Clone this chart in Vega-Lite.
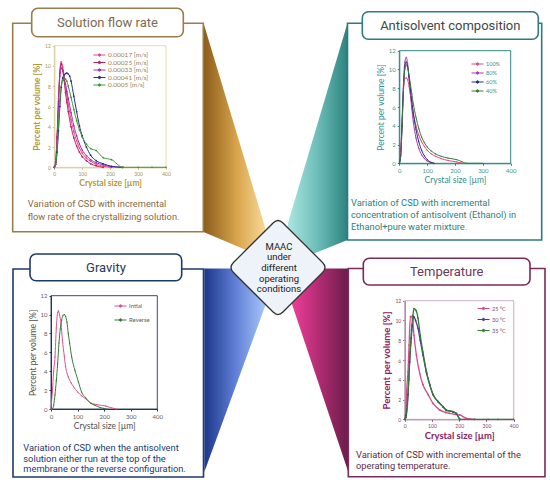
{
  "$schema": "https://vega.github.io/schema/vega-lite/v6.json",
  "width": 550,
  "height": 484,
  "padding": 0,
  "autosize": {"type": "none"},
  "background": "#ffffff",
  "config": {
    "view": {"stroke": null},
    "font": "Roboto",
    "axis": {"grid": false, "labelFlush": false, "labelOverlap": false, "ticks": true, "tickSize": 2, "domainWidth": 1}
  },
  "datasets": {
    "flow": [
      {"rate": "0.00017 [m/s]", "size": 0, "pct": 0}, {"rate": "0.00017 [m/s]", "size": 5, "pct": 0.6}, {"rate": "0.00017 [m/s]", "size": 10, "pct": 3.2}, {"rate": "0.00017 [m/s]", "size": 15, "pct": 6.8}, {"rate": "0.00017 [m/s]", "size": 20, "pct": 9.6}, {"rate": "0.00017 [m/s]", "size": 25, "pct": 10.4}, {"rate": "0.00017 [m/s]", "size": 30, "pct": 9.9}, {"rate": "0.00017 [m/s]", "size": 35, "pct": 9}, {"rate": "0.00017 [m/s]", "size": 40, "pct": 8}, {"rate": "0.00017 [m/s]", "size": 45, "pct": 7.1}, {"rate": "0.00017 [m/s]", "size": 50, "pct": 6.2}, {"rate": "0.00017 [m/s]", "size": 60, "pct": 4.7}, {"rate": "0.00017 [m/s]", "size": 70, "pct": 3.5}, {"rate": "0.00017 [m/s]", "size": 80, "pct": 2.6}, {"rate": "0.00017 [m/s]", "size": 90, "pct": 1.9}, {"rate": "0.00017 [m/s]", "size": 100, "pct": 1.4}, {"rate": "0.00017 [m/s]", "size": 115, "pct": 0.9}, {"rate": "0.00017 [m/s]", "size": 130, "pct": 0.6}, {"rate": "0.00017 [m/s]", "size": 150, "pct": 0.3}, {"rate": "0.00017 [m/s]", "size": 175, "pct": 0.1}, {"rate": "0.00017 [m/s]", "size": 205, "pct": 0},
      {"rate": "0.00025 [m/s]", "size": 0, "pct": 0}, {"rate": "0.00025 [m/s]", "size": 5, "pct": 0.5}, {"rate": "0.00025 [m/s]", "size": 10, "pct": 3}, {"rate": "0.00025 [m/s]", "size": 15, "pct": 6.5}, {"rate": "0.00025 [m/s]", "size": 20, "pct": 9.3}, {"rate": "0.00025 [m/s]", "size": 25, "pct": 10.2}, {"rate": "0.00025 [m/s]", "size": 30, "pct": 9.6}, {"rate": "0.00025 [m/s]", "size": 35, "pct": 8.6}, {"rate": "0.00025 [m/s]", "size": 40, "pct": 7.4}, {"rate": "0.00025 [m/s]", "size": 45, "pct": 6.4}, {"rate": "0.00025 [m/s]", "size": 50, "pct": 5.5}, {"rate": "0.00025 [m/s]", "size": 60, "pct": 4}, {"rate": "0.00025 [m/s]", "size": 70, "pct": 2.9}, {"rate": "0.00025 [m/s]", "size": 80, "pct": 2.1}, {"rate": "0.00025 [m/s]", "size": 90, "pct": 1.5}, {"rate": "0.00025 [m/s]", "size": 100, "pct": 1.05}, {"rate": "0.00025 [m/s]", "size": 115, "pct": 0.65}, {"rate": "0.00025 [m/s]", "size": 130, "pct": 0.35}, {"rate": "0.00025 [m/s]", "size": 150, "pct": 0.15}, {"rate": "0.00025 [m/s]", "size": 175, "pct": 0},
      {"rate": "0.00033 [m/s]", "size": 0, "pct": 0}, {"rate": "0.00033 [m/s]", "size": 5, "pct": 0.5}, {"rate": "0.00033 [m/s]", "size": 10, "pct": 2.8}, {"rate": "0.00033 [m/s]", "size": 15, "pct": 6.3}, {"rate": "0.00033 [m/s]", "size": 20, "pct": 9}, {"rate": "0.00033 [m/s]", "size": 25, "pct": 9.8}, {"rate": "0.00033 [m/s]", "size": 30, "pct": 9.5}, {"rate": "0.00033 [m/s]", "size": 35, "pct": 8.9}, {"rate": "0.00033 [m/s]", "size": 40, "pct": 8.2}, {"rate": "0.00033 [m/s]", "size": 45, "pct": 7.5}, {"rate": "0.00033 [m/s]", "size": 50, "pct": 6.8}, {"rate": "0.00033 [m/s]", "size": 60, "pct": 5.4}, {"rate": "0.00033 [m/s]", "size": 70, "pct": 4.1}, {"rate": "0.00033 [m/s]", "size": 80, "pct": 3.1}, {"rate": "0.00033 [m/s]", "size": 90, "pct": 2.3}, {"rate": "0.00033 [m/s]", "size": 100, "pct": 1.7}, {"rate": "0.00033 [m/s]", "size": 115, "pct": 1.15}, {"rate": "0.00033 [m/s]", "size": 130, "pct": 0.75}, {"rate": "0.00033 [m/s]", "size": 150, "pct": 0.45}, {"rate": "0.00033 [m/s]", "size": 175, "pct": 0.25}, {"rate": "0.00033 [m/s]", "size": 205, "pct": 0.05}, {"rate": "0.00033 [m/s]", "size": 245, "pct": 0},
      {"rate": "0.00041 [m/s]", "size": 0, "pct": 0}, {"rate": "0.00041 [m/s]", "size": 5, "pct": 0.3}, {"rate": "0.00041 [m/s]", "size": 10, "pct": 1.5}, {"rate": "0.00041 [m/s]", "size": 15, "pct": 3.6}, {"rate": "0.00041 [m/s]", "size": 20, "pct": 6}, {"rate": "0.00041 [m/s]", "size": 25, "pct": 7.9}, {"rate": "0.00041 [m/s]", "size": 30, "pct": 8.8}, {"rate": "0.00041 [m/s]", "size": 35, "pct": 9.1}, {"rate": "0.00041 [m/s]", "size": 40, "pct": 9.25}, {"rate": "0.00041 [m/s]", "size": 45, "pct": 9.3}, {"rate": "0.00041 [m/s]", "size": 50, "pct": 9.2}, {"rate": "0.00041 [m/s]", "size": 55, "pct": 9}, {"rate": "0.00041 [m/s]", "size": 60, "pct": 8.5}, {"rate": "0.00041 [m/s]", "size": 70, "pct": 7}, {"rate": "0.00041 [m/s]", "size": 80, "pct": 5.5}, {"rate": "0.00041 [m/s]", "size": 90, "pct": 4.1}, {"rate": "0.00041 [m/s]", "size": 100, "pct": 3.1}, {"rate": "0.00041 [m/s]", "size": 115, "pct": 2}, {"rate": "0.00041 [m/s]", "size": 130, "pct": 1.2}, {"rate": "0.00041 [m/s]", "size": 150, "pct": 0.65}, {"rate": "0.00041 [m/s]", "size": 175, "pct": 0.35}, {"rate": "0.00041 [m/s]", "size": 205, "pct": 0.1}, {"rate": "0.00041 [m/s]", "size": 245, "pct": 0},
      {"rate": "0.0005 [m/s]", "size": 0, "pct": 0}, {"rate": "0.0005 [m/s]", "size": 5, "pct": 0.3}, {"rate": "0.0005 [m/s]", "size": 10, "pct": 1.8}, {"rate": "0.0005 [m/s]", "size": 15, "pct": 4.2}, {"rate": "0.0005 [m/s]", "size": 20, "pct": 6.6}, {"rate": "0.0005 [m/s]", "size": 25, "pct": 8}, {"rate": "0.0005 [m/s]", "size": 30, "pct": 8.6}, {"rate": "0.0005 [m/s]", "size": 35, "pct": 8.7}, {"rate": "0.0005 [m/s]", "size": 40, "pct": 8.7}, {"rate": "0.0005 [m/s]", "size": 45, "pct": 8.5}, {"rate": "0.0005 [m/s]", "size": 50, "pct": 8}, {"rate": "0.0005 [m/s]", "size": 60, "pct": 6.9}, {"rate": "0.0005 [m/s]", "size": 70, "pct": 5.7}, {"rate": "0.0005 [m/s]", "size": 80, "pct": 4.6}, {"rate": "0.0005 [m/s]", "size": 90, "pct": 3.7}, {"rate": "0.0005 [m/s]", "size": 100, "pct": 3}, {"rate": "0.0005 [m/s]", "size": 115, "pct": 2.3}, {"rate": "0.0005 [m/s]", "size": 130, "pct": 1.85}, {"rate": "0.0005 [m/s]", "size": 150, "pct": 1.65}, {"rate": "0.0005 [m/s]", "size": 175, "pct": 0.95}, {"rate": "0.0005 [m/s]", "size": 205, "pct": 0.75}, {"rate": "0.0005 [m/s]", "size": 245, "pct": 0}, {"rate": "0.0005 [m/s]", "size": 300, "pct": 0}, {"rate": "0.0005 [m/s]", "size": 350, "pct": 0}, {"rate": "0.0005 [m/s]", "size": 400, "pct": 0}
    ],
    "solvent": [
      {"ethanol": "100%", "size": 0, "pct": 0}, {"ethanol": "100%", "size": 5, "pct": 1.2}, {"ethanol": "100%", "size": 10, "pct": 4.5}, {"ethanol": "100%", "size": 15, "pct": 7.8}, {"ethanol": "100%", "size": 20, "pct": 9}, {"ethanol": "100%", "size": 25, "pct": 9.1}, {"ethanol": "100%", "size": 30, "pct": 8.9}, {"ethanol": "100%", "size": 35, "pct": 8.2}, {"ethanol": "100%", "size": 40, "pct": 7.3}, {"ethanol": "100%", "size": 45, "pct": 6.3}, {"ethanol": "100%", "size": 50, "pct": 5.4}, {"ethanol": "100%", "size": 60, "pct": 4}, {"ethanol": "100%", "size": 70, "pct": 3}, {"ethanol": "100%", "size": 80, "pct": 2.3}, {"ethanol": "100%", "size": 90, "pct": 1.8}, {"ethanol": "100%", "size": 100, "pct": 1.4}, {"ethanol": "100%", "size": 115, "pct": 1}, {"ethanol": "100%", "size": 130, "pct": 0.75}, {"ethanol": "100%", "size": 150, "pct": 0.5}, {"ethanol": "100%", "size": 175, "pct": 0.3}, {"ethanol": "100%", "size": 205, "pct": 0.15}, {"ethanol": "100%", "size": 230, "pct": 0},
      {"ethanol": "80%", "size": 0, "pct": 0}, {"ethanol": "80%", "size": 5, "pct": 1}, {"ethanol": "80%", "size": 10, "pct": 4.6}, {"ethanol": "80%", "size": 15, "pct": 8.6}, {"ethanol": "80%", "size": 20, "pct": 10.8}, {"ethanol": "80%", "size": 25, "pct": 11.3}, {"ethanol": "80%", "size": 30, "pct": 10.6}, {"ethanol": "80%", "size": 35, "pct": 9}, {"ethanol": "80%", "size": 40, "pct": 7.3}, {"ethanol": "80%", "size": 45, "pct": 5.8}, {"ethanol": "80%", "size": 50, "pct": 4.5}, {"ethanol": "80%", "size": 60, "pct": 2.7}, {"ethanol": "80%", "size": 70, "pct": 1.6}, {"ethanol": "80%", "size": 80, "pct": 0.9}, {"ethanol": "80%", "size": 90, "pct": 0.5}, {"ethanol": "80%", "size": 100, "pct": 0.25}, {"ethanol": "80%", "size": 115, "pct": 0.05}, {"ethanol": "80%", "size": 125, "pct": 0},
      {"ethanol": "60%", "size": 0, "pct": 0}, {"ethanol": "60%", "size": 5, "pct": 0.8}, {"ethanol": "60%", "size": 10, "pct": 4}, {"ethanol": "60%", "size": 15, "pct": 8}, {"ethanol": "60%", "size": 20, "pct": 10.3}, {"ethanol": "60%", "size": 25, "pct": 10.8}, {"ethanol": "60%", "size": 30, "pct": 10.3}, {"ethanol": "60%", "size": 35, "pct": 9.2}, {"ethanol": "60%", "size": 40, "pct": 7.9}, {"ethanol": "60%", "size": 45, "pct": 6.6}, {"ethanol": "60%", "size": 50, "pct": 5.4}, {"ethanol": "60%", "size": 60, "pct": 3.6}, {"ethanol": "60%", "size": 70, "pct": 2.3}, {"ethanol": "60%", "size": 80, "pct": 1.4}, {"ethanol": "60%", "size": 90, "pct": 0.8}, {"ethanol": "60%", "size": 100, "pct": 0.4}, {"ethanol": "60%", "size": 115, "pct": 0.1}, {"ethanol": "60%", "size": 125, "pct": 0},
      {"ethanol": "40%", "size": 0, "pct": 0}, {"ethanol": "40%", "size": 5, "pct": 0.8}, {"ethanol": "40%", "size": 10, "pct": 4}, {"ethanol": "40%", "size": 15, "pct": 8}, {"ethanol": "40%", "size": 20, "pct": 10}, {"ethanol": "40%", "size": 25, "pct": 10.5}, {"ethanol": "40%", "size": 30, "pct": 10.2}, {"ethanol": "40%", "size": 35, "pct": 9.4}, {"ethanol": "40%", "size": 40, "pct": 8.4}, {"ethanol": "40%", "size": 45, "pct": 7.4}, {"ethanol": "40%", "size": 50, "pct": 6.4}, {"ethanol": "40%", "size": 60, "pct": 4.9}, {"ethanol": "40%", "size": 70, "pct": 3.7}, {"ethanol": "40%", "size": 80, "pct": 2.8}, {"ethanol": "40%", "size": 90, "pct": 2.2}, {"ethanol": "40%", "size": 100, "pct": 1.75}, {"ethanol": "40%", "size": 115, "pct": 1.3}, {"ethanol": "40%", "size": 130, "pct": 1}, {"ethanol": "40%", "size": 150, "pct": 0.75}, {"ethanol": "40%", "size": 175, "pct": 0.55}, {"ethanol": "40%", "size": 205, "pct": 0.4}, {"ethanol": "40%", "size": 245, "pct": 0}, {"ethanol": "40%", "size": 300, "pct": 0}
    ],
    "gravity": [
      {"mode": "Intial", "size": 0, "pct": 0}, {"mode": "Intial", "size": 5, "pct": 1.8}, {"mode": "Intial", "size": 10, "pct": 4}, {"mode": "Intial", "size": 15, "pct": 5.5}, {"mode": "Intial", "size": 20, "pct": 8.6}, {"mode": "Intial", "size": 25, "pct": 10.2}, {"mode": "Intial", "size": 28, "pct": 10.4}, {"mode": "Intial", "size": 32, "pct": 10}, {"mode": "Intial", "size": 38, "pct": 9}, {"mode": "Intial", "size": 43, "pct": 7.3}, {"mode": "Intial", "size": 50, "pct": 5.6}, {"mode": "Intial", "size": 55, "pct": 4.5}, {"mode": "Intial", "size": 65, "pct": 3.4}, {"mode": "Intial", "size": 75, "pct": 2.8}, {"mode": "Intial", "size": 85, "pct": 2.35}, {"mode": "Intial", "size": 100, "pct": 1.8}, {"mode": "Intial", "size": 115, "pct": 1.4}, {"mode": "Intial", "size": 130, "pct": 1.1}, {"mode": "Intial", "size": 150, "pct": 0.65}, {"mode": "Intial", "size": 175, "pct": 0.45}, {"mode": "Intial", "size": 205, "pct": 0.32}, {"mode": "Intial", "size": 225, "pct": 0.15}, {"mode": "Intial", "size": 245, "pct": 0},
      {"mode": "Reverse", "size": 0, "pct": 0}, {"mode": "Reverse", "size": 5, "pct": 0}, {"mode": "Reverse", "size": 10, "pct": 0.4}, {"mode": "Reverse", "size": 15, "pct": 1.5}, {"mode": "Reverse", "size": 20, "pct": 3}, {"mode": "Reverse", "size": 25, "pct": 4.8}, {"mode": "Reverse", "size": 30, "pct": 7}, {"mode": "Reverse", "size": 35, "pct": 8.5}, {"mode": "Reverse", "size": 40, "pct": 9.4}, {"mode": "Reverse", "size": 45, "pct": 9.9}, {"mode": "Reverse", "size": 50, "pct": 10}, {"mode": "Reverse", "size": 55, "pct": 9.8}, {"mode": "Reverse", "size": 60, "pct": 9.2}, {"mode": "Reverse", "size": 65, "pct": 8}, {"mode": "Reverse", "size": 70, "pct": 7}, {"mode": "Reverse", "size": 78, "pct": 5.5}, {"mode": "Reverse", "size": 90, "pct": 4.1}, {"mode": "Reverse", "size": 103, "pct": 2.9}, {"mode": "Reverse", "size": 115, "pct": 1.8}, {"mode": "Reverse", "size": 130, "pct": 1.2}, {"mode": "Reverse", "size": 150, "pct": 0.6}, {"mode": "Reverse", "size": 165, "pct": 0.4}, {"mode": "Reverse", "size": 185, "pct": 0.15}, {"mode": "Reverse", "size": 197, "pct": 0.07}, {"mode": "Reverse", "size": 210, "pct": 0}
    ],
    "temp": [
      {"temp": "25 °C", "size": 0, "pct": 0}, {"temp": "25 °C", "size": 5, "pct": 1.2}, {"temp": "25 °C", "size": 7, "pct": 2.8}, {"temp": "25 °C", "size": 12, "pct": 4.8}, {"temp": "25 °C", "size": 16, "pct": 7.5}, {"temp": "25 °C", "size": 21, "pct": 10.4}, {"temp": "25 °C", "size": 26, "pct": 10.4}, {"temp": "25 °C", "size": 30, "pct": 9.8}, {"temp": "25 °C", "size": 34, "pct": 8.5}, {"temp": "25 °C", "size": 43, "pct": 6.5}, {"temp": "25 °C", "size": 55, "pct": 4.65}, {"temp": "25 °C", "size": 67, "pct": 3.5}, {"temp": "25 °C", "size": 86, "pct": 2.5}, {"temp": "25 °C", "size": 104, "pct": 1.6}, {"temp": "25 °C", "size": 128, "pct": 0.95}, {"temp": "25 °C", "size": 150, "pct": 0.7}, {"temp": "25 °C", "size": 165, "pct": 0.6}, {"temp": "25 °C", "size": 185, "pct": 0.5}, {"temp": "25 °C", "size": 202, "pct": 0.44}, {"temp": "25 °C", "size": 226, "pct": 0.1}, {"temp": "25 °C", "size": 257, "pct": 0},
      {"temp": "30 °C", "size": 0, "pct": 0}, {"temp": "30 °C", "size": 5, "pct": 0.4}, {"temp": "30 °C", "size": 12, "pct": 2.5}, {"temp": "30 °C", "size": 18, "pct": 5.8}, {"temp": "30 °C", "size": 24, "pct": 8.2}, {"temp": "30 °C", "size": 28, "pct": 9.5}, {"temp": "30 °C", "size": 33, "pct": 10.4}, {"temp": "30 °C", "size": 40, "pct": 10}, {"temp": "30 °C", "size": 49, "pct": 9.2}, {"temp": "30 °C", "size": 57, "pct": 8}, {"temp": "30 °C", "size": 67, "pct": 6.5}, {"temp": "30 °C", "size": 80, "pct": 4.7}, {"temp": "30 °C", "size": 92, "pct": 3.5}, {"temp": "30 °C", "size": 104, "pct": 2.5}, {"temp": "30 °C", "size": 122, "pct": 1.8}, {"temp": "30 °C", "size": 141, "pct": 1.25}, {"temp": "30 °C", "size": 153, "pct": 0.9}, {"temp": "30 °C", "size": 177, "pct": 0.75}, {"temp": "30 °C", "size": 190, "pct": 0.55}, {"temp": "30 °C", "size": 202, "pct": 0},
      {"temp": "35 °C", "size": 0, "pct": 0}, {"temp": "35 °C", "size": 5, "pct": 0.2}, {"temp": "35 °C", "size": 10, "pct": 1.5}, {"temp": "35 °C", "size": 15, "pct": 4}, {"temp": "35 °C", "size": 20, "pct": 6.8}, {"temp": "35 °C", "size": 25, "pct": 9}, {"temp": "35 °C", "size": 30, "pct": 10.5}, {"temp": "35 °C", "size": 34, "pct": 11.2}, {"temp": "35 °C", "size": 42, "pct": 11}, {"temp": "35 °C", "size": 49, "pct": 10.2}, {"temp": "35 °C", "size": 57, "pct": 8.5}, {"temp": "35 °C", "size": 67, "pct": 6.8}, {"temp": "35 °C", "size": 80, "pct": 4.8}, {"temp": "35 °C", "size": 92, "pct": 3.5}, {"temp": "35 °C", "size": 104, "pct": 2.5}, {"temp": "35 °C", "size": 122, "pct": 1.8}, {"temp": "35 °C", "size": 141, "pct": 1.28}, {"temp": "35 °C", "size": 153, "pct": 0.94}, {"temp": "35 °C", "size": 177, "pct": 0.77}, {"temp": "35 °C", "size": 190, "pct": 0.6}, {"temp": "35 °C", "size": 202, "pct": 0}, {"temp": "35 °C", "size": 257, "pct": 0}, {"temp": "35 °C", "size": 306, "pct": 0}, {"temp": "35 °C", "size": 342, "pct": 0}, {"temp": "35 °C", "size": 400, "pct": 0}
    ]
  },
  "resolve": {"scale": {"x": "independent", "y": "independent", "color": "independent"}},
  "layer": [
    {
      "data": {"values": [{}]},
      "layer": [
        {
          "mark": {"type": "point", "shape": "M-0.2617,-1L0.2617,0.7362L0.2617,1L-0.2617,0.7787Z", "size": 55225, "filled": true, "opacity": 1, "strokeWidth": 0,
            "fill": {"gradient": "linear", "x1": 0, "y1": 0, "x2": 1, "y2": 0, "stops": [{"offset": 0, "color": "#8b5c1b"}, {"offset": 0.55, "color": "#d9a54c"}, {"offset": 1, "color": "#f7d897"}]}},
          "encoding": {
            "x": {"datum": 234.25, "type": "quantitative", "scale": {"domain": [0, 550], "range": [0, 550], "nice": false, "zero": false}, "axis": null},
            "y": {"datum": 140.5, "type": "quantitative", "scale": {"domain": [0, 484], "range": [0, 484], "nice": false, "zero": false}, "axis": null}
          }
        },
        {
          "mark": {"type": "point", "shape": "M0.2469,-1L0.2469,0.8008L-0.2469,1L-0.2469,0.6598Z", "size": 58081, "filled": true, "opacity": 1, "strokeWidth": 0,
            "fill": {"gradient": "linear", "x1": 0, "y1": 0, "x2": 1, "y2": 0, "stops": [{"offset": 0, "color": "#abe6e0"}, {"offset": 0.5, "color": "#6cbdb8"}, {"offset": 1, "color": "#2d8380"}]}},
          "encoding": {"x": {"datum": 317.75, "type": "quantitative"}, "y": {"datum": 143.5, "type": "quantitative"}}
        },
        {
          "mark": {"type": "point", "shape": "M-0.3032,-1L0.3032,-1L0.3032,-0.6541L-0.3032,1Z", "size": 41412, "filled": true, "opacity": 1, "strokeWidth": 0,
            "fill": {"gradient": "linear", "x1": 0, "y1": 0, "x2": 1, "y2": 0, "stops": [{"offset": 0, "color": "#1c368a"}, {"offset": 0.5, "color": "#5f7fd6"}, {"offset": 1, "color": "#a9c6fa"}]}},
          "encoding": {"x": {"datum": 235.15, "type": "quantitative"}, "y": {"datum": 370.25, "type": "quantitative"}}
        },
        {
          "mark": {"type": "point", "shape": "M-0.2865,-1L0.2865,-1L0.2865,1L-0.2865,-0.7081Z", "size": 41412, "filled": true, "opacity": 1, "strokeWidth": 0,
            "fill": {"gradient": "linear", "x1": 0, "y1": 0, "x2": 1, "y2": 0, "stops": [{"offset": 0, "color": "#f2409b"}, {"offset": 0.5, "color": "#b02c72"}, {"offset": 1, "color": "#6b1c4a"}]}},
          "encoding": {"x": {"datum": 319.15, "type": "quantitative"}, "y": {"datum": 370.25, "type": "quantitative"}}
        },
        {
          "mark": {"type": "rect", "filled": false, "stroke": "#9c7c4c", "strokeWidth": 1.6},
          "encoding": {"x": {"datum": 12.7, "type": "quantitative"}, "x2": {"datum": 203.3}, "y": {"datum": 23.3, "type": "quantitative"}, "y2": {"datum": 231.7}}
        },
        {
          "mark": {"type": "rect", "filled": false, "stroke": "#2e7c79", "strokeWidth": 1.6},
          "encoding": {"x": {"datum": 347.5, "type": "quantitative"}, "x2": {"datum": 541.7}, "y": {"datum": 23.3, "type": "quantitative"}, "y2": {"datum": 240}}
        },
        {
          "mark": {"type": "rect", "filled": false, "stroke": "#1e3a6b", "strokeWidth": 1.6},
          "encoding": {"x": {"datum": 13, "type": "quantitative"}, "x2": {"datum": 203.5}, "y": {"datum": 269, "type": "quantitative"}, "y2": {"datum": 477}}
        },
        {
          "mark": {"type": "rect", "filled": false, "stroke": "#7b2a5d", "strokeWidth": 1.6},
          "encoding": {"x": {"datum": 348.3, "type": "quantitative"}, "x2": {"datum": 545}, "y": {"datum": 268.5, "type": "quantitative"}, "y2": {"datum": 476.7}}
        },
        {
          "mark": {"type": "rect", "fill": "#ffffff", "stroke": "#9c7c4c", "strokeWidth": 1.6, "cornerRadius": 6},
          "encoding": {"x": {"datum": 31.7, "type": "quantitative"}, "x2": {"datum": 183.3}, "y": {"datum": 8.3, "type": "quantitative"}, "y2": {"datum": 36.7}}
        },
        {
          "mark": {"type": "rect", "fill": "#ffffff", "stroke": "#2e7c79", "strokeWidth": 1.6, "cornerRadius": 6},
          "encoding": {"x": {"datum": 362.3, "type": "quantitative"}, "x2": {"datum": 538.3}, "y": {"datum": 11.7, "type": "quantitative"}, "y2": {"datum": 39.3}}
        },
        {
          "mark": {"type": "rect", "fill": "#ffffff", "stroke": "#1e3a6b", "strokeWidth": 1.6, "cornerRadius": 6},
          "encoding": {"x": {"datum": 30, "type": "quantitative"}, "x2": {"datum": 181.7}, "y": {"datum": 254, "type": "quantitative"}, "y2": {"datum": 280.7}}
        },
        {
          "mark": {"type": "rect", "fill": "#ffffff", "stroke": "#7b2a5d", "strokeWidth": 1.6, "cornerRadius": 6},
          "encoding": {"x": {"datum": 363.3, "type": "quantitative"}, "x2": {"datum": 530}, "y": {"datum": 258.3, "type": "quantitative"}, "y2": {"datum": 285}}
        },
        {
          "mark": {"type": "text", "text": "Solution flow rate", "font": "Roboto", "fontSize": 13, "color": "#7d6a52", "align": "center", "baseline": "middle"},
          "encoding": {"x": {"datum": 107.5, "type": "quantitative"}, "y": {"datum": 22.5, "type": "quantitative"}}
        },
        {
          "mark": {"type": "text", "text": "Antisolvent composition", "font": "Roboto", "fontSize": 13, "color": "#3c4848", "align": "center", "baseline": "middle"},
          "encoding": {"x": {"datum": 450.3, "type": "quantitative"}, "y": {"datum": 25.5, "type": "quantitative"}}
        },
        {
          "mark": {"type": "text", "text": "Gravity", "font": "Roboto", "fontSize": 13, "color": "#2c3854", "align": "center", "baseline": "middle"},
          "encoding": {"x": {"datum": 106, "type": "quantitative"}, "y": {"datum": 267.5, "type": "quantitative"}}
        },
        {
          "mark": {"type": "text", "text": "Temperature", "font": "Roboto", "fontSize": 13, "color": "#6a3a5a", "align": "center", "baseline": "middle"},
          "encoding": {"x": {"datum": 446.7, "type": "quantitative"}, "y": {"datum": 271.7, "type": "quantitative"}}
        },
        {
          "mark": {"type": "text", "text": ["Variation of CSD with incremental", "flow rate of the crystallizing solution."], "font": "Roboto", "fontSize": 9.3, "lineHeight": 12.7, "color": "#8a6a42", "align": "left", "baseline": "middle"},
          "encoding": {"x": {"datum": 27.7, "type": "quantitative"}, "y": {"datum": 204, "type": "quantitative"}}
        },
        {
          "mark": {"type": "text", "text": ["Variation of CSD with incremental", "concentration of antisolvent (Ethanol) in", "Ethanol+pure water mixture."], "font": "Roboto", "fontSize": 9.3, "lineHeight": 11.7, "color": "#2e7f7c", "align": "left", "baseline": "middle"},
          "encoding": {"x": {"datum": 351, "type": "quantitative"}, "y": {"datum": 203.3, "type": "quantitative"}}
        },
        {
          "mark": {"type": "text", "text": ["Variation of CSD when the antisolvent", "solution either run at the top of the", "membrane or the reverse configuration."], "font": "Roboto", "fontSize": 9.3, "lineHeight": 10.6, "color": "#1e3a6b", "align": "left", "baseline": "middle"},
          "encoding": {"x": {"datum": 23.3, "type": "quantitative"}, "y": {"datum": 448.3, "type": "quantitative"}}
        },
        {
          "mark": {"type": "text", "text": ["Variation of CSD with incremental of the", "operating temperature."], "font": "Roboto", "fontSize": 9.3, "lineHeight": 11, "color": "#5a2d4e", "align": "left", "baseline": "middle"},
          "encoding": {"x": {"datum": 356, "type": "quantitative"}, "y": {"datum": 455, "type": "quantitative"}}
        },
        {
          "mark": {"type": "point", "shape": "M-0.1,-0.9Q0,-1,0.1,-0.9L0.9,-0.1Q1,0,0.9,0.1L0.1,0.9Q0,1,-0.1,0.9L-0.9,0.1Q-1,0,-0.9,-0.1Z", "size": 9801, "filled": true, "fill": "#eef2f9", "opacity": 1, "stroke": "#333333", "strokeWidth": 1.3},
          "encoding": {"x": {"datum": 278, "type": "quantitative"}, "y": {"datum": 267.5, "type": "quantitative"}}
        },
        {
          "mark": {"type": "text", "text": ["MAAC", "under", "different", "operating", "conditions"], "font": "Roboto", "fontSize": 9.5, "lineHeight": 10.7, "color": "#222222", "align": "center", "baseline": "middle"},
          "encoding": {"x": {"datum": 279, "type": "quantitative"}, "y": {"datum": 246.5, "type": "quantitative"}}
        }
      ]
    },
    {
      "layer": [
        {
          "data": {"values": [{}]},
          "mark": {"type": "rect", "filled": false, "stroke": "#dcd19c", "strokeWidth": 0.8},
          "encoding": {"x": {"datum": 0, "type": "quantitative"}, "x2": {"datum": 400}, "y": {"datum": 0, "type": "quantitative"}, "y2": {"datum": 12}}
        },
        {
          "data": {"name": "flow"},
          "mark": {"type": "line", "strokeWidth": 1, "interpolate": "monotone", "point": {"filled": true, "size": 3}},
          "encoding": {
            "x": {"field": "size", "type": "quantitative", "scale": {"domain": [0, 400], "range": [54.3, 166], "nice": false, "zero": false},
              "axis": {"orient": "bottom", "offset": -316.7, "values": [0, 100, 200, 300, 400], "title": "Crystal size [µm]", "titleFont": "Lato", "titleFontSize": 8.5, "titleFontWeight": "bold", "titleColor": "#b09a3c", "titlePadding": 2, "labelFont": "Lato", "labelFontSize": 5, "labelColor": "#a8944a", "labelPadding": 2, "domainColor": "#cfc184", "tickColor": "#cfc184"}},
            "y": {"field": "pct", "type": "quantitative", "scale": {"domain": [0, 12], "range": [167.3, 45.7], "nice": false, "zero": false},
              "axis": {"orient": "left", "offset": -54.3, "values": [0, 2, 4, 6, 8, 10, 12], "title": "Percent per volume [%]", "titleFont": "Lato", "titleFontSize": 8.5, "titleFontWeight": "bold", "titleColor": "#b09a3c", "titlePadding": 3, "labelFont": "Lato", "labelFontSize": 5, "labelColor": "#a8944a", "labelPadding": 2, "domainColor": "#cfc184", "tickColor": "#cfc184"}},
            "color": {"field": "rate", "type": "nominal", "sort": null,
              "scale": {"domain": ["0.00017 [m/s]", "0.00025 [m/s]", "0.00033 [m/s]", "0.00041 [m/s]", "0.0005 [m/s]"], "range": ["#e5488a", "#b8205e", "#a32fb0", "#25307e", "#3c9a3c"]},
              "legend": {"title": null, "orient": "none", "legendX": 96, "legendY": 51.5, "padding": 0, "symbolType": "M-2,0H2M0.4,0A0.4,0.4,0,1,1,-0.4,0A0.4,0.4,0,1,1,0.4,0Z", "symbolSize": 36, "symbolStrokeWidth": 1, "labelFont": "Lato", "labelFontSize": 6.5, "labelColor": "#9c8650", "labelOffset": 5, "rowPadding": 0.5}}
          }
        }
      ]
    },
    {
      "layer": [
        {
          "data": {"values": [{}]},
          "mark": {"type": "rect", "filled": false, "stroke": "#2f8784", "strokeWidth": 1},
          "encoding": {"x": {"datum": 0, "type": "quantitative"}, "x2": {"datum": 400}, "y": {"datum": 0, "type": "quantitative"}, "y2": {"datum": 12}}
        },
        {
          "data": {"name": "solvent"},
          "mark": {"type": "line", "strokeWidth": 1, "interpolate": "monotone", "point": {"filled": true, "size": 1.5}},
          "encoding": {
            "x": {"field": "size", "type": "quantitative", "scale": {"domain": [0, 400], "range": [399.3, 510.7], "nice": false, "zero": false},
              "axis": {"orient": "bottom", "offset": -320.7, "values": [0, 100, 200, 300, 400], "title": "Crystal size [µm]", "titleFont": "Lato", "titleFontSize": 8.5, "titleFontWeight": "normal", "titleColor": "#2f8f8c", "titlePadding": 2, "labelFont": "Lato", "labelFontSize": 6, "labelColor": "#3c9794", "labelPadding": 2, "domainColor": "#2f8784", "tickColor": "#2f8784"}},
            "y": {"field": "pct", "type": "quantitative", "scale": {"domain": [0, 12], "range": [163.3, 50.7], "nice": false, "zero": false},
              "axis": {"orient": "left", "offset": -399.3, "values": [0, 2, 4, 6, 8, 10, 12], "title": "Percent per volume [%]", "titleFont": "Lato", "titleFontSize": 8.5, "titleFontWeight": "normal", "titleColor": "#2f8f8c", "titlePadding": 3, "labelFont": "Lato", "labelFontSize": 6, "labelColor": "#3c9794", "labelPadding": 2, "domainColor": "#2f8784", "tickColor": "#2f8784"}},
            "color": {"field": "ethanol", "type": "nominal", "sort": null,
              "scale": {"domain": ["100%", "80%", "60%", "40%"], "range": ["#e04a80", "#a63ab5", "#25307e", "#3d7a3d"]},
              "legend": {"title": null, "orient": "none", "legendX": 474, "legendY": 60.5, "padding": 0, "symbolType": "M-2,0H2M0.4,0A0.4,0.4,0,1,1,-0.4,0A0.4,0.4,0,1,1,0.4,0Z", "symbolSize": 36, "symbolStrokeWidth": 1, "labelFont": "Lato", "labelFontSize": 5.5, "labelColor": "#4a8a88", "labelOffset": 5, "rowPadding": 2}}
          }
        }
      ]
    },
    {
      "layer": [
        {
          "data": {"values": [{}]},
          "mark": {"type": "rect", "filled": false, "stroke": "#26365a", "strokeWidth": 0.9},
          "encoding": {"x": {"datum": 0, "type": "quantitative"}, "x2": {"datum": 400}, "y": {"datum": 0, "type": "quantitative"}, "y2": {"datum": 12}}
        },
        {
          "data": {"name": "gravity"},
          "mark": {"type": "line", "strokeWidth": 1, "interpolate": "monotone", "point": {"filled": true, "size": 1.5}},
          "encoding": {
            "x": {"field": "size", "type": "quantitative", "scale": {"domain": [0, 400], "range": [51, 157.3], "nice": false, "zero": false},
              "axis": {"orient": "bottom", "offset": -75, "values": [0, 100, 200, 300, 400], "title": "Crystal size [µm]", "titleFont": "Lato", "titleFontSize": 8.5, "titleFontWeight": "normal", "titleColor": "#505050", "titlePadding": 2, "labelFont": "Lato", "labelFontSize": 6, "labelColor": "#606060", "labelPadding": 2, "domainColor": "#26365a", "tickColor": "#26365a"}},
            "y": {"field": "pct", "type": "quantitative", "scale": {"domain": [0, 12], "range": [409, 295.7], "nice": false, "zero": false},
              "axis": {"orient": "left", "offset": -51, "values": [0, 2, 4, 6, 8, 10, 12], "title": "Percent per volume [%]", "titleFont": "Lato", "titleFontSize": 8.5, "titleFontWeight": "normal", "titleColor": "#505050", "titlePadding": 3, "labelFont": "Lato", "labelFontSize": 6, "labelColor": "#606060", "labelPadding": 2, "domainColor": "#26365a", "tickColor": "#26365a"}},
            "color": {"field": "mode", "type": "nominal", "sort": null,
              "scale": {"domain": ["Intial", "Reverse"], "range": ["#e0508a", "#3a7a3a"]},
              "legend": {"title": null, "orient": "none", "legendX": 117, "legendY": 302.5, "padding": 0, "symbolType": "M-2,0H2M0.4,0A0.4,0.4,0,1,1,-0.4,0A0.4,0.4,0,1,1,0.4,0Z", "symbolSize": 36, "symbolStrokeWidth": 1, "labelFont": "Lato", "labelFontSize": 6, "labelColor": "#606060", "labelOffset": 5, "rowPadding": 7}}
          }
        }
      ]
    },
    {
      "layer": [
        {
          "data": {"values": [{}]},
          "mark": {"type": "rect", "filled": false, "stroke": "#c6a6be", "strokeWidth": 0.9},
          "encoding": {"x": {"datum": 0, "type": "quantitative"}, "x2": {"datum": 400}, "y": {"datum": 0, "type": "quantitative"}, "y2": {"datum": 12}}
        },
        {
          "data": {"name": "temp"},
          "mark": {"type": "line", "strokeWidth": 1.3, "interpolate": "monotone", "point": {"filled": true, "size": 3}},
          "encoding": {
            "x": {"field": "size", "type": "quantitative", "scale": {"domain": [0, 400], "range": [404.7, 513.7], "nice": false, "zero": false},
              "axis": {"orient": "bottom", "offset": -64.7, "values": [0, 100, 200, 300, 400], "title": "Crystal size [µm]", "titleFont": "Lato", "titleFontSize": 9.5, "titleFontWeight": "bold", "titleColor": "#8b2160", "titlePadding": 2, "labelFont": "Lato", "labelFontSize": 5, "labelColor": "#7a4c6c", "labelPadding": 2, "domainColor": "#8a5a7c", "tickColor": "#8a5a7c"}},
            "y": {"field": "pct", "type": "quantitative", "scale": {"domain": [0, 12], "range": [419.3, 300.7], "nice": false, "zero": false},
              "axis": {"orient": "left", "offset": -404.7, "values": [0, 2, 4, 6, 8, 10, 12], "title": "Percent per volume [%]", "titleFont": "Lato", "titleFontSize": 9.5, "titleFontWeight": "bold", "titleColor": "#8b2160", "titlePadding": 3, "labelFont": "Lato", "labelFontSize": 5, "labelColor": "#7a4c6c", "labelPadding": 2, "domainColor": "#8a5a7c", "tickColor": "#8a5a7c"}},
            "color": {"field": "temp", "type": "nominal", "sort": null,
              "scale": {"domain": ["25 °C", "30 °C", "35 °C"], "range": ["#d94a8a", "#4b3a95", "#2f7f2f"]},
              "legend": {"title": null, "orient": "none", "legendX": 480, "legendY": 305, "padding": 0, "symbolType": "M-2,0H2M0.4,0A0.4,0.4,0,1,1,-0.4,0A0.4,0.4,0,1,1,0.4,0Z", "symbolSize": 36, "symbolStrokeWidth": 1, "labelFont": "Lato", "labelFontSize": 5.5, "labelColor": "#7a4c6c", "labelOffset": 5, "rowPadding": 4}}
          }
        }
      ]
    }
  ]
}
